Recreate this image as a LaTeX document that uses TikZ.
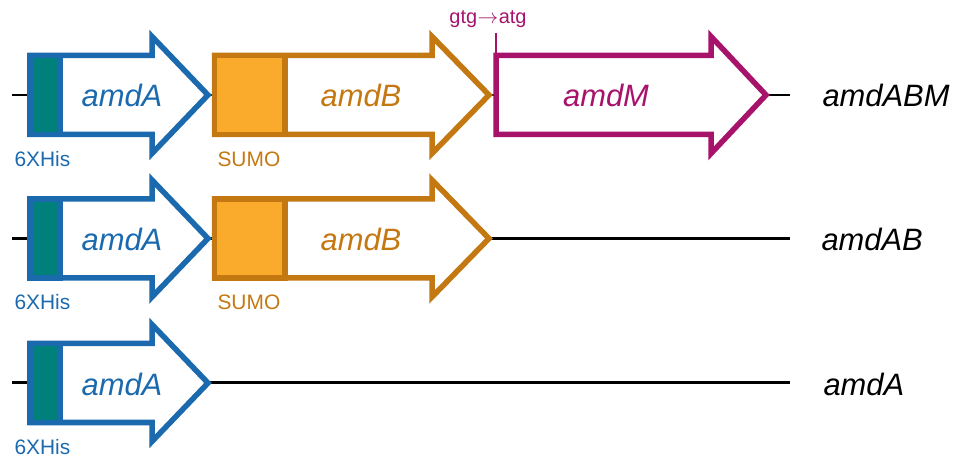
\documentclass[tikz,border=0pt]{standalone}
\usepackage{fontspec}
\setmainfont{Liberation Sans}
\definecolor{gblue}{RGB}{27,106,174}
\definecolor{gteal}{RGB}{0,128,122}
\definecolor{gorange}{RGB}{196,120,18}
\definecolor{gsumo}{RGB}{251,171,43}
\definecolor{gmag}{RGB}{167,19,107}
\tikzset{
  dna/.style={line width=2.6bp, black},
  genebox/.style={line width=5.5bp, line join=miter, fill=white},
  genelabel/.style={anchor=base, font=\fontsize{31}{31}\selectfont\itshape},
  constr/.style={anchor=base west, font=\fontsize{31}{31}\selectfont\itshape, text=black},
  taglabel/.style={anchor=base west, font=\fontsize{21}{21}\selectfont},
}
\newcommand\genearrow[5]{%
  \draw[genebox,draw=#5] (#1,#4-39.5) -- (#2,#4-39.5) -- (#2,#4-58.5) -- (#3,#4)
    -- (#2,#4+58.5) -- (#2,#4+39.5) -- (#1,#4+39.5) -- cycle;}
\begin{document}
\begin{tikzpicture}[x=1bp,y=-1bp]
\useasboundingbox (0,0) rectangle (961,459);
% ---------- row 1: amdABM ----------
\draw[dna] (12,95) coordinate (r1s) -- (790,95) coordinate (r1e);
\genearrow{30}{152}{208}{95}{gblue}
\draw[genebox,draw=gblue,fill=gteal] (30,55.5) rectangle (60,134.5);
\genearrow{214.5}{432}{489}{95}{gorange}
\draw[genebox,draw=gorange,fill=gsumo] (214.5,55.5) rectangle (285,134.5);
\genearrow{496}{711}{766}{95}{gmag}
\draw[draw=gmag,line width=2bp] (496,55.5) -- (496,33) coordinate (tick);
\node[genelabel,text=gblue] (a1) at (122,107) {amdA};
\node[genelabel,text=gorange] (b1) at (361,107) {amdB};
\node[genelabel,text=gmag] (m1) at (606,107) {amdM};
\node[taglabel,text=gblue] (h1) at (11,167) {6XHis};
\node[taglabel,text=gorange] (s1) at (214,167) {SUMO};
\node[anchor=base,text=gmag,font=\fontsize{20}{20}\selectfont,inner sep=0pt] (mut) at (488,24) {gtg\kern0.5bp$\rightarrow$\kern0.5bp atg};
\node[constr] (c1) at (819,107) {amdABM};
% ---------- row 2: amdAB ----------
\draw[dna] (12,238.5) coordinate (r2s) -- (790,238.5) coordinate (r2e);
\genearrow{30}{152}{208}{238.5}{gblue}
\draw[genebox,draw=gblue,fill=gteal] (30,199) rectangle (60,278);
\genearrow{214.5}{432}{489}{238.5}{gorange}
\draw[genebox,draw=gorange,fill=gsumo] (214.5,199) rectangle (285,278);
\node[genelabel,text=gblue] (a2) at (122,250.5) {amdA};
\node[genelabel,text=gorange] (b2) at (361,250.5) {amdB};
\node[taglabel,text=gblue] (h2) at (11,309.5) {6XHis};
\node[taglabel,text=gorange] (s2) at (214,309.5) {SUMO};
\node[constr] (c2) at (818,250.5) {amdAB};
% ---------- row 3: amdA ----------
\draw[dna] (12,382.5) coordinate (r3s) -- (790,382.5) coordinate (r3e);
\genearrow{30}{152}{208}{383}{gblue}
\draw[genebox,draw=gblue,fill=gteal] (30,343.5) rectangle (60,422.5);
\node[genelabel,text=gblue] (a3) at (122,395) {amdA};
\node[taglabel,text=gblue] (h3) at (11,454) {6XHis};
\node[constr] (c3) at (820,395) {amdA};
\end{tikzpicture}
\end{document}
